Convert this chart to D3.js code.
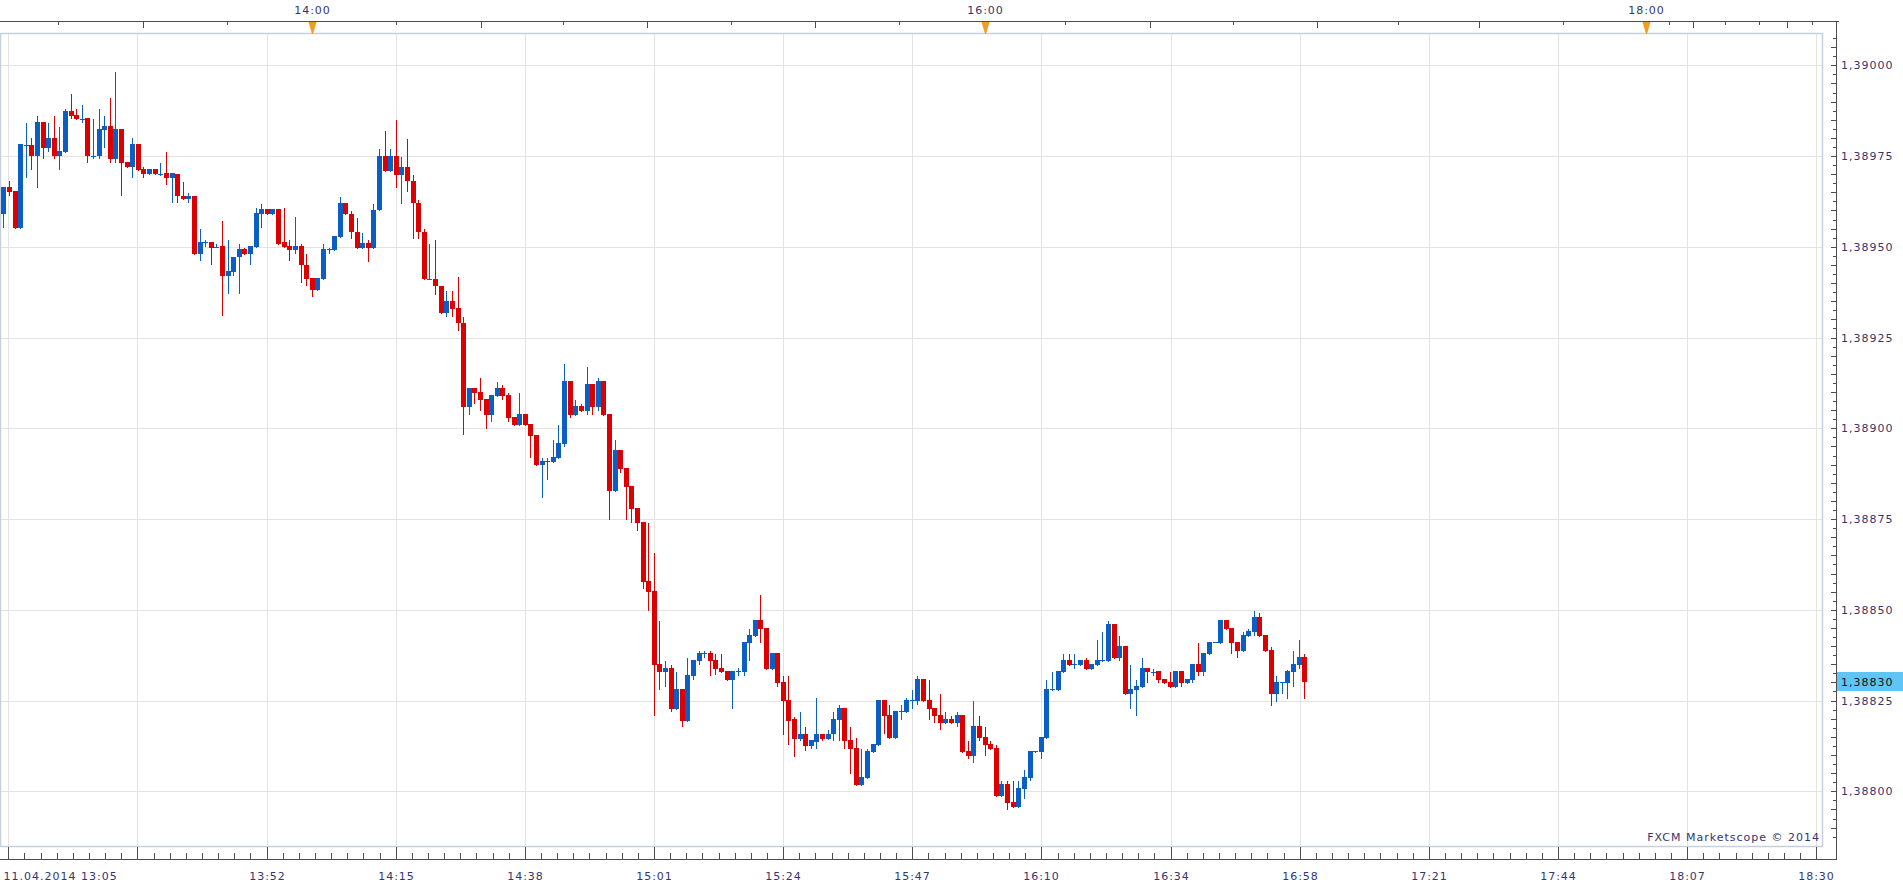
<!DOCTYPE html>
<html>
<head>
<meta charset="utf-8">
<script src="https://cdn.jsdelivr.net/npm/d3@7"></script>
<style>
  html, body { margin: 0; padding: 0; background: #fff; }
  svg { display: block; }
  text { font-family: "DejaVu Sans", Verdana, sans-serif; font-size: 11px; fill: #35356f; letter-spacing: 1px; }
  text.price-tag { fill: #111; }
</style>
</head>
<body>
<svg id="chart"></svg>
<script>
// 1-minute EUR/USD candles, 11.04.2014 from 13:05
// values are in points (0.00001) above 1.38000
const openPts = [
  959.0,966.4,965.3,955.1,978.1,978.1,975.0,984.3,977.2,980.1,
  975.0,976.1,987.3,986.2,985.3,985.4,975.1,975.0,982.2,983.2,
  974.2,982.4,973.3,972.0,978.2,971.3,970.0,971.3,970.1,970.2,
  968.9,970.1,964.1,963.1,964.1,947.9,951.2,951.2,950.0,950.1,
  941.9,943.0,947.2,949.3,948.0,950.0,959.0,960.3,959.0,960.3,
  951.2,950.1,949.1,950.1,945.1,941.3,938.1,941.1,949.3,949.1,
  952.8,962.1,959.1,954.1,949.8,951.1,949.8,960.0,975.1,971.0,
  975.1,969.9,972.1,968.2,962.1,954.1,941.1,941.2,939.2,931.9,
  935.1,933.2,929.0,906.0,911.1,910.0,908.1,903.8,909.0,911.1,
  909.2,903.1,900.9,904.0,901.2,898.2,889.9,891.0,890.7,891.8,
  895.7,913.1,903.7,906.2,904.8,912.2,905.9,913.1,904.0,882.7,
  894.0,889.1,884.1,878.0,874.2,857.9,855.1,835.0,833.0,834.0,
  822.6,828.1,819.5,831.8,836.0,838.1,838.1,836.2,834.0,833.1,
  830.6,833.1,832.9,840.9,842.9,847.3,845.1,833.7,838.1,830.1,
  825.1,819.8,814.5,815.9,812.6,813.7,815.9,814.5,815.8,819.6,
  822.9,814.1,811.9,801.7,803.7,810.8,812.7,825.1,821.0,814.7,
  822.1,821.8,825.1,824.8,830.9,825.1,822.9,821.0,818.8,819.9,
  818.8,821.0,811.1,809.7,817.9,814.9,813.0,811.9,798.7,802.0,
  797.1,795.7,800.6,803.7,811.1,810.8,814.7,828.1,827.8,832.8,
  836.1,835.0,834.7,836.1,833.6,834.7,836.1,835.8,846.0,836.6,
  839.9,826.7,827.8,828.7,833.9,832.8,833.1,830.9,830.0,828.6,
  833.1,829.7,830.6,835.0,832.8,837.8,841.2,840.9,847.3,845.1,
  841.2,838.7,842.8,844.0,848.1,843.1,838.9,826.7,830.0,829.7,
  832.8,834.8,837.0
];
const highPts = [
  966.4,968.0,965.3,978.2,984.0,979.9,985.9,984.3,984.0,985.9,
  982.9,987.9,992.0,987.9,989.0,985.4,985.1,987.9,985.9,990.9,
  998.1,982.4,973.3,979.9,978.2,971.9,971.3,971.3,973.0,976.0,
  970.2,970.1,967.9,964.9,964.1,955.0,952.0,951.2,950.8,957.0,
  952.0,947.3,950.9,949.8,950.1,960.8,961.9,960.3,960.3,960.3,
  960.8,952.0,958.1,950.9,947.9,941.3,941.3,950.9,949.8,953.1,
  963.8,962.1,959.9,958.0,953.9,952.0,961.9,977.0,982.0,977.0,
  985.0,974.8,979.8,969.9,963.0,955.0,950.8,951.9,939.2,937.9,
  937.9,941.8,930.7,911.1,911.1,913.9,908.1,909.2,912.8,911.9,
  909.7,903.1,909.7,904.0,901.2,898.2,891.8,891.8,896.8,900.9,
  917.7,913.1,907.8,906.7,916.9,912.2,913.9,913.1,904.0,896.8,
  894.0,889.1,884.1,878.0,874.2,873.9,865.6,846.9,835.9,834.8,
  832.9,828.1,836.8,836.2,838.7,838.7,838.7,837.9,837.9,833.1,
  833.1,834.0,841.2,844.8,847.3,854.0,845.1,838.1,838.1,831.8,
  831.8,820.6,821.8,817.6,814.0,825.6,815.9,816.8,821.8,823.7,
  822.9,817.7,814.7,811.6,811.6,813.0,825.1,825.1,823.7,822.1,
  823.7,825.6,827.8,831.7,830.9,830.6,822.9,826.7,821.8,820.7,
  821.8,821.0,813.8,824.8,820.7,817.7,813.8,812.7,802.8,802.8,
  802.8,802.8,805.9,811.1,811.1,814.9,830.6,832.8,833.1,837.7,
  837.7,837.7,836.1,836.6,835.0,841.6,843.8,846.8,846.0,842.7,
  839.9,834.7,830.6,836.6,833.9,833.6,833.1,830.9,832.8,833.1,
  833.1,830.9,835.0,840.9,838.1,841.2,841.2,847.3,847.3,845.1,
  841.2,844.0,844.8,849.8,849.0,843.1,839.8,831.7,830.0,833.4,
  838.7,841.7,837.8
];
const lowPts = [
  955.4,964.2,955.1,955.1,969.2,971.4,966.5,974.4,976.4,974.4,
  971.4,976.1,985.4,985.1,984.3,973.3,974.4,974.4,977.4,973.3,
  973.3,964.2,972.0,969.2,971.1,969.2,970.0,970.0,969.9,967.3,
  962.3,962.3,963.1,962.3,947.9,946.3,950.2,945.2,950.0,931.3,
  937.3,942.2,937.3,948.0,945.2,950.0,955.4,959.0,959.0,950.9,
  950.0,946.3,948.3,940.3,939.5,936.4,938.1,941.1,948.3,949.1,
  952.8,958.9,952.3,949.8,949.8,946.2,949.8,960.0,971.0,971.0,
  966.4,962.2,965.3,952.3,952.3,941.0,941.0,937.1,931.9,931.0,
  931.0,927.2,898.3,904.0,907.1,905.1,900.2,902.1,909.0,908.1,
  902.0,900.9,900.9,900.9,892.1,889.9,881.1,886.0,890.7,891.8,
  895.1,903.1,903.7,904.8,904.0,904.0,905.1,903.7,875.0,882.7,
  888.0,875.0,874.2,872.0,856.0,849.9,821.0,828.1,829.0,822.0,
  822.6,818.0,819.5,830.9,835.1,837.0,832.0,832.3,832.9,830.6,
  822.9,832.0,832.0,836.2,842.9,841.2,833.7,833.7,829.0,815.9,
  812.9,809.8,814.0,811.5,811.8,811.8,814.0,814.5,814.1,814.1,
  811.9,805.0,801.7,801.7,803.7,810.8,812.7,816.0,814.7,814.7,
  819.9,821.8,822.9,824.0,824.8,819.9,819.0,817.1,818.8,818.8,
  818.0,810.8,809.2,808.1,814.1,810.0,811.6,798.7,798.7,795.1,
  795.7,795.7,798.2,803.1,810.8,809.2,814.7,827.8,827.8,832.8,
  834.7,833.9,834.7,833.6,833.6,834.7,835.8,835.8,836.6,836.1,
  826.7,822.9,821.0,828.7,830.0,832.0,830.0,829.7,828.6,828.6,
  828.9,829.7,830.0,832.0,832.0,837.8,841.2,840.9,844.8,838.1,
  837.0,838.7,842.8,843.1,842.8,838.7,823.9,825.0,827.0,825.8,
  828.9,833.9,825.8
];
const closePts = [
  966.4,965.1,955.1,978.2,978.1,975.0,984.3,977.2,980.1,975.0,
  976.3,987.3,986.0,985.1,985.3,975.0,975.1,982.4,983.2,974.2,
  982.4,973.1,972.0,978.2,971.1,970.0,971.3,970.0,970.1,968.9,
  970.2,963.9,963.1,964.1,947.9,951.2,951.2,949.8,950.0,941.9,
  943.2,947.3,949.3,948.0,950.1,959.2,960.3,959.0,960.3,950.9,
  950.0,949.1,950.1,944.9,941.1,938.1,941.3,949.3,949.3,953.1,
  962.1,958.9,954.0,949.8,951.1,949.8,960.2,975.1,971.0,975.1,
  969.9,972.1,968.0,962.0,954.0,941.0,941.1,939.1,931.9,935.1,
  933.0,928.9,906.0,911.1,909.8,907.9,903.8,909.2,911.1,908.9,
  902.8,900.9,904.0,900.9,897.9,889.9,891.0,891.0,892.1,896.0,
  913.1,903.7,906.2,904.8,912.2,905.9,913.1,903.7,882.7,894.0,
  888.8,883.8,877.8,873.9,857.6,854.9,834.7,832.8,834.0,822.6,
  828.1,819.5,832.0,836.2,838.1,838.1,836.0,833.7,832.9,830.6,
  833.1,833.1,841.2,843.1,847.3,844.8,833.7,838.1,829.8,824.8,
  819.5,814.5,815.9,812.6,814.0,815.9,814.5,815.9,819.9,822.9,
  813.8,811.6,801.7,803.9,811.1,813.0,825.1,820.7,814.7,822.1,
  822.1,825.1,825.1,830.9,824.8,822.6,820.7,818.8,819.9,818.8,
  821.0,810.8,809.7,817.9,814.7,812.7,811.6,798.7,802.0,796.8,
  795.7,800.9,803.9,811.1,811.1,814.9,828.1,828.1,833.1,836.1,
  834.7,835.0,836.1,833.6,835.0,836.1,836.1,846.0,836.6,839.9,
  826.7,828.1,828.9,833.9,832.8,832.8,830.6,829.7,828.6,833.1,
  829.7,830.9,835.0,832.8,838.1,841.2,841.2,847.3,844.8,840.9,
  838.7,843.1,844.2,848.1,842.8,838.7,826.7,830.0,830.0,833.1,
  835.0,837.0,830.0
];

const bottomLabels = ["11.04.2014 13:05", "", "13:52", "14:15", "14:38", "15:01", "15:24",
  "15:47", "16:10", "16:34", "16:58", "17:21", "17:44", "18:07", "18:30"];
const priceTicks = [1.39000, 1.38975, 1.38950, 1.38925, 1.38900, 1.38875, 1.38850, 1.38825, 1.38800];
// top time axis, positions in candle units
const topMarkerLabels = ["14:00", "16:00", "18:00"];
const topMarkerPos = [55, 175, 292.9];
const topMinorPos = [9.8, 39.9, 70, 99.8, 129.8, 159.8, 189.4, 219.3, 248.7, 278.1, 297, 307, 313, 322.5];
const topMajorPos = [24.9, 85.1, 114.8, 144.8, 204.4, 234.2, 263.2, 301.3, 318];

const W = 1903, H = 889;
const red = "#dc0000", blue = "#0a5ec4", axisColor = "#4d4d4d";
const plotTop = 33, plotBottom = 846, plotRight = 1822;
const axisTopY = 21, axisBottomY = 859, axisRightX = 1836;

const toPrice = p => 1.38 + p / 100000;
const fmtPrice = d => d3.format(".5f")(d).replace(".", ",");

const svg = d3.select("#chart").attr("width", W).attr("height", H);

const x = d3.scaleLinear().domain([0, openPts.length - 1]).range([3.3, 1304.3]).interpolate(d3.interpolateRound);
const y = d3.scaleLinear().domain([1.388, 1.39]).range([791.3, 65.3]).interpolate(d3.interpolateRound);

// grid columns every ~23 candles
const gridPos = d3.range(bottomLabels.length).map(k => 0.89 + k * 23.03);
const gridMinor = d3.range(1, (bottomLabels.length - 1) * 8 + 1).filter(k => k % 8).map(k => 0.89 + k * 23.03 / 8);

let grid = svg.append("g").attr("stroke", "#e3e3e3").attr("shape-rendering", "crispEdges");
grid.selectAll(".v").data(gridPos).join("line").attr("class", "v")
  .attr("x1", d => x(d) + 0.5).attr("x2", d => x(d) + 0.5)
  .attr("y1", plotTop).attr("y2", plotBottom);
grid.selectAll(".h").data(priceTicks).join("line").attr("class", "h")
  .attr("x1", 0).attr("x2", plotRight)
  .attr("y1", d => y(d) + 0.5).attr("y2", d => y(d) + 0.5);

svg.append("rect")
  .attr("x", 0.5).attr("y", plotTop + 0.5)
  .attr("width", plotRight).attr("height", plotBottom - plotTop)
  .attr("fill", "none").attr("stroke", "#c5d1dd").attr("stroke-width", 1.5);

// candles
const candles = openPts.map((o, i) => ({
  i: i, open: toPrice(o), high: toPrice(highPts[i]), low: toPrice(lowPts[i]), close: toPrice(closePts[i])
}));
const isUp = d => d.close >= d.open;

let cg = svg.append("g").attr("shape-rendering", "crispEdges");
cg.selectAll(".wick").data(candles).join("rect").attr("class", "wick")
  .attr("x", d => x(d.i))
  .attr("y", d => y(d.high))
  .attr("width", 1)
  .attr("height", d => Math.max(1, y(d.low) - y(d.high) + 1))
  .attr("fill", d => isUp(d) ? blue : red);
cg.selectAll(".body").data(candles).join("rect").attr("class", "body")
  .attr("x", d => x(d.i) - 2)
  .attr("width", 5)
  .attr("y", d => y(Math.max(d.open, d.close)))
  .attr("height", d => Math.max(1, y(Math.min(d.open, d.close)) - y(Math.max(d.open, d.close))))
  .attr("fill", d => isUp(d) ? blue : red);

// bottom axis
const noDomain = g => g.select(".domain").remove();
svg.append("g").attr("transform", `translate(0,${axisBottomY})`).attr("color", axisColor)
  .call(d3.axisTop(x).tickValues(gridPos).tickSize(12).tickFormat(""))
  .call(noDomain);
svg.append("g").attr("transform", `translate(0,${axisBottomY})`).attr("color", axisColor)
  .call(d3.axisTop(x).tickValues(gridMinor).tickSize(6).tickFormat(""))
  .call(noDomain);
svg.append("g").attr("transform", `translate(0,${axisBottomY})`)
  .call(d3.axisBottom(x).tickValues(gridPos).tickSize(0).tickPadding(13).tickFormat((d, i) => bottomLabels[i]))
  .call(noDomain)
  .call(g => g.select(".tick text").attr("text-anchor", "start").attr("x", -5));
svg.append("line")
  .attr("x1", 0).attr("x2", axisRightX + 1)
  .attr("y1", axisBottomY + 0.5).attr("y2", axisBottomY + 0.5)
  .attr("stroke", axisColor);

// top axis
svg.append("line")
  .attr("x1", 0).attr("x2", axisRightX + 3)
  .attr("y1", axisTopY + 0.5).attr("y2", axisTopY + 0.5)
  .attr("stroke", axisColor);
svg.append("g").attr("transform", `translate(0,${axisTopY})`).attr("color", axisColor)
  .call(d3.axisBottom(x).tickValues(topMinorPos).tickSize(4).tickFormat(""))
  .call(noDomain);
svg.append("g").attr("transform", `translate(0,${axisTopY})`).attr("color", axisColor)
  .call(d3.axisBottom(x).tickValues(topMajorPos).tickSize(7).tickFormat(""))
  .call(noDomain);
svg.append("g").attr("transform", `translate(0,${axisTopY})`)
  .call(d3.axisTop(x).tickValues(topMarkerPos).tickSize(0).tickPadding(7).tickFormat((d, i) => topMarkerLabels[i]))
  .call(noDomain);
svg.append("g").selectAll("path").data(topMarkerPos).join("path")
  .attr("d", d => {
    const cx = x(d) + 0.5;
    return `M${cx - 4},${axisTopY + 1}L${cx + 4},${axisTopY + 1}L${cx + 0.5},${plotTop + 1}L${cx - 0.5},${plotTop + 1}Z`;
  })
  .attr("fill", "#f29d1f");

// right price axis
svg.append("line")
  .attr("x1", axisRightX + 0.5).attr("x2", axisRightX + 0.5)
  .attr("y1", axisTopY).attr("y2", axisBottomY + 1)
  .attr("stroke", axisColor);
const priceMinor = d3.range(787.5, 1008, 2.5);
svg.append("g").attr("transform", `translate(${axisRightX},0)`).attr("color", axisColor)
  .call(d3.axisLeft(y).tickValues(priceMinor.filter(p => p % 5 !== 0).map(toPrice)).tickSize(3).tickFormat(""))
  .call(noDomain);
svg.append("g").attr("transform", `translate(${axisRightX},0)`).attr("color", axisColor)
  .call(d3.axisLeft(y).tickValues(priceMinor.filter(p => p % 5 === 0).map(toPrice)).tickSize(5).tickFormat(""))
  .call(noDomain);
svg.append("g").attr("transform", `translate(${axisRightX},0)`)
  .call(d3.axisRight(y).tickValues(priceTicks).tickSize(0).tickPadding(5).tickFormat(fmtPrice))
  .call(noDomain);

// last price tag
const lastClose = candles[candles.length - 1].close;
svg.append("rect")
  .attr("x", axisRightX + 1).attr("y", y(lastClose) - 10)
  .attr("width", W - axisRightX - 1).attr("height", 19)
  .attr("fill", "#5ec5f4");
svg.append("text").attr("class", "price-tag")
  .attr("x", axisRightX + 5).attr("y", y(lastClose))
  .attr("dy", "0.35em")
  .text(fmtPrice(lastClose));

svg.append("text")
  .attr("x", plotRight - 2).attr("y", plotBottom - 5)
  .attr("text-anchor", "end")
  .text("FXCM Marketscope © 2014");
</script>
</body>
</html>
